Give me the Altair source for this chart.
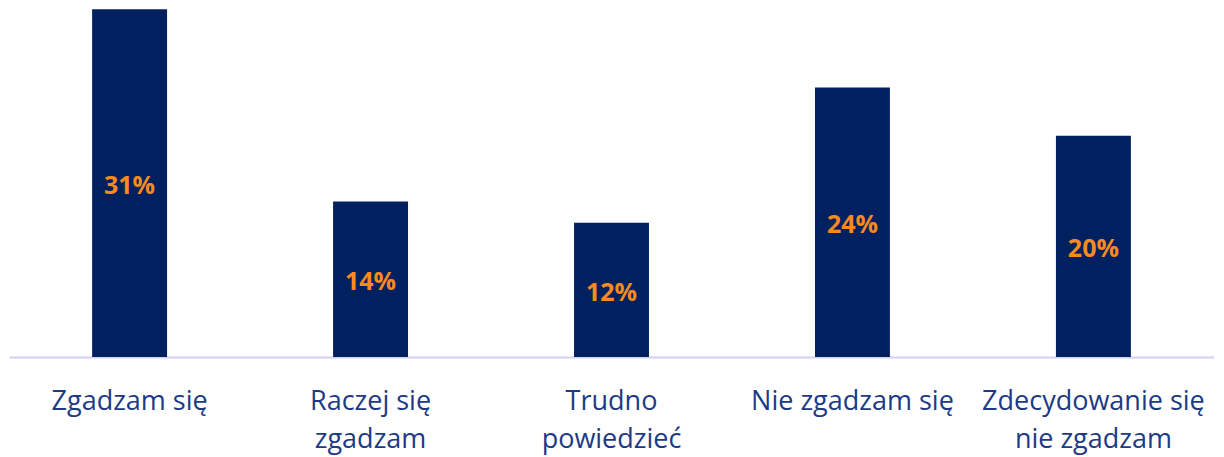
import altair as alt
import pandas as pd

categories = ["Zgadzam się", "Raczej się\nzgadzam", "Trudno\npowiedzieć",
              "Nie zgadzam się", "Zdecydowanie się\nnie zgadzam"]
values = [31.1, 13.9, 12.0, 24.1, 19.8]
labels = ["31%", "14%", "12%", "24%", "20%"]

df = pd.DataFrame({"cat": categories, "val": values, "lab": labels})
df["mid"] = df["val"] / 2

x = alt.X("cat:N", sort=categories, title=None,
          scale=alt.Scale(paddingInner=0.689, paddingOuter=0.345),
          axis=alt.Axis(labelExpr="split(datum.label, '\\n')", labelAngle=0,
                        labelFont="Open Sans", labelFontSize=27, labelColor="#1c3a86",
                        labelLineHeight=38, labelPadding=31, labelLimit=0, ticks=False,
                        labelOverlap=False,
                        domainColor="#d4d0f0", domainWidth=2, labelBaseline="top"))
y = alt.Y("val:Q", scale=alt.Scale(domain=[0, 31.13], nice=False), axis=None)

bars = alt.Chart(df).mark_bar(color="#002060").encode(x=x, y=y)
text = alt.Chart(df).mark_text(font="Open Sans", fontSize=25, fontWeight="bold",
                               color="#fb8a1e", baseline="middle", dy=3).encode(
    x=alt.X("cat:N", sort=categories), y=alt.Y("mid:Q"), text="lab:N")

chart = (bars + text).properties(
    width=1205, height=348,
    autosize=alt.AutoSizeParams(type="none"),
    padding={"left": 1, "top": 1, "right": 0, "bottom": 100},
).configure_view(stroke=None).configure_axis(grid=False)

chart.save("out.html", embed_options={"renderer": "svg", "actions": False})
